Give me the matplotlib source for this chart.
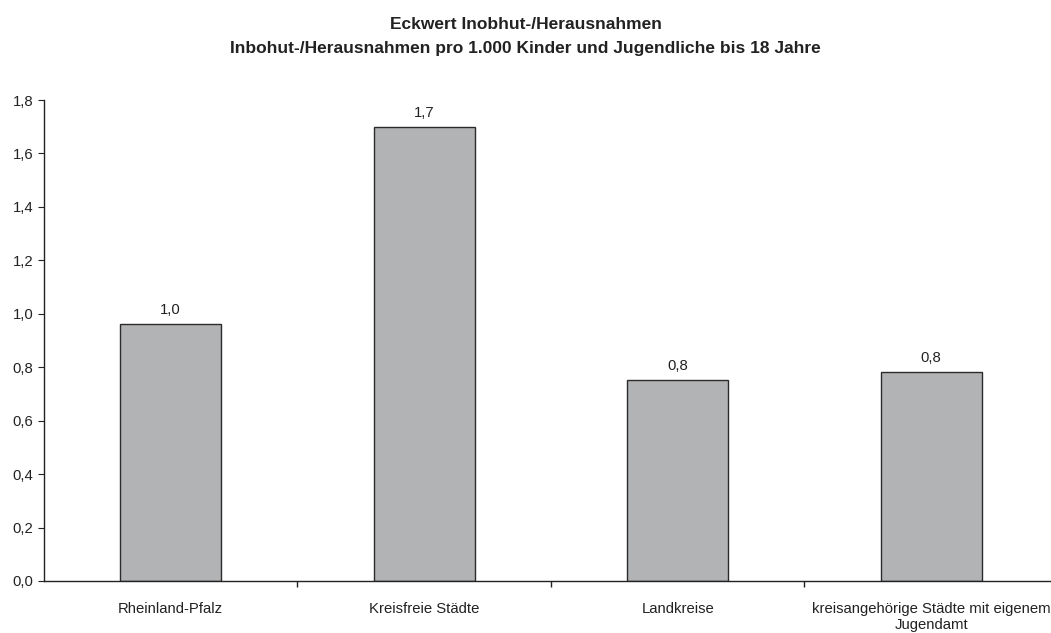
import matplotlib
matplotlib.use('Agg')
import matplotlib.pyplot as plt
from matplotlib.ticker import FixedLocator, FuncFormatter

plt.rcParams['font.family'] = ['Liberation Sans', 'DejaVu Sans']

categories = ['Rheinland-Pfalz', 'Kreisfreie Städte', 'Landkreise',
              'kreisangehörige Städte mit eigenem\nJugendamt']
values = [0.963, 1.699, 0.751, 0.783]
yticks = [0.0, 0.2, 0.4, 0.6, 0.8, 1.0, 1.2, 1.4, 1.6, 1.8]
title_lines = ['Eckwert Inobhut-/Herausnahmen',
               'Inbohut-/Herausnahmen pro 1.000 Kinder und Jugendliche bis 18 Jahre']

fig = plt.figure(figsize=(10.51, 6.33), dpi=100)
ax = fig.add_axes([44 / 1051, 1 - 581 / 633, 1014 / 1051, 481 / 633])

x = range(len(categories))
bars = ax.bar(x, values, width=0.4, color='#b1b3b5', edgecolor='#2b2b2b', linewidth=1.0)

for b, v in zip(bars, values):
    ax.annotate(f'{v:.1f}'.replace('.', ','), (b.get_x() + b.get_width() / 2, v),
                xytext=(0, 5), textcoords='offset points', ha='center', va='bottom',
                fontsize=10.7, color='#222222')

ax.set_xlim(-0.5, 3.5)
ax.set_ylim(0, 1.8)
ax.set_yticks(yticks)
ax.yaxis.set_major_formatter(FuncFormatter(lambda v, p: f'{v:.1f}'.replace('.', ',')))
ax.set_xticks(list(x))
ax.set_xticklabels(categories, fontsize=10.7, color='#222222')
ax.xaxis.set_minor_locator(FixedLocator([0.5, 1.5, 2.5]))
ax.tick_params(axis='x', which='major', length=0, pad=15)
ax.tick_params(axis='x', which='minor', length=4, direction='out', width=1, color='#222222')
ax.tick_params(axis='y', length=4, direction='out', labelsize=10.7, labelcolor='#222222', color='#222222')

for s in ['top', 'right']:
    ax.spines[s].set_visible(False)
for s in ['left', 'bottom']:
    ax.spines[s].set_color('#222222')
    ax.spines[s].set_linewidth(1.0)

# title as two lines, baselines placed separately
for line, base in zip(title_lines, [29, 53]):
    fig.text(0.5, 1 - base / 633, line, ha='center', va='baseline',
             fontsize=12.5, fontweight='bold', color='#222222')

fig.savefig('out.png', dpi=100)
